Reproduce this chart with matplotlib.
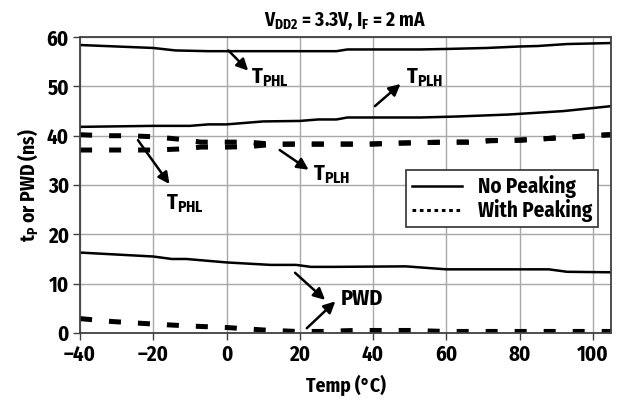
import matplotlib
matplotlib.use("Agg")
import matplotlib.pyplot as plt
from matplotlib.lines import Line2D

FONT = 'Fira Sans Condensed'
plt.rcParams['font.family'] = [FONT, 'DejaVu Sans']
plt.rcParams['font.weight'] = 'bold'
plt.rcParams['font.stretch'] = 'condensed'
plt.rcParams['mathtext.fontset'] = 'custom'
plt.rcParams['mathtext.rm'] = FONT + ':bold'
plt.rcParams['mathtext.bf'] = FONT + ':bold'
plt.rcParams['mathtext.it'] = FONT + ':bold'

# data (temp in C, time in ns)
tphl_np_t = [-40, -20, -14, -5, 0, 20, 30, 33, 53, 60, 71, 80, 85, 93, 105]
tphl_np = [58.4, 57.8, 57.3, 57.15, 57.15, 57.15, 57.15, 57.5, 57.5, 57.6, 57.8, 58.1, 58.2, 58.6, 58.8]

tplh_np_t = [-40, -20, -10, -5, 0, 10, 20, 25, 30, 33, 53, 63, 77, 92, 105]
tplh_np = [41.8, 42.0, 42.0, 42.3, 42.3, 42.9, 43.0, 43.3, 43.3, 43.7, 43.7, 43.9, 44.3, 45.0, 46.0]

pwd_np_t = [-40, -20, -15, -11, 0, 12, 19, 23, 29, 49, 60, 88, 93, 105]
pwd_np = [16.3, 15.5, 15.0, 15.0, 14.3, 13.8, 13.8, 13.4, 13.4, 13.5, 12.9, 12.9, 12.4, 12.3]

peak_t = [-40, -33, -27, -20, -13, -7, 0, 6, 12, 18, 25, 32, 39, 47, 53, 60, 66, 72, 80, 87, 93, 99, 105]
tphl_wp = [40.2, 40.0, 40.0, 39.8, 39.3, 38.7, 38.7, 38.7, 38.3, 38.3, 38.3, 38.3, 38.3, 38.5, 38.6,
           38.7, 38.7, 39.0, 39.1, 39.4, 39.7, 40.0, 40.2]
tplh_wp = [37.1, 37.1, 37.1, 37.1, 37.3, 37.7, 37.7, 37.8, 38.2, 38.3, 38.3, 38.3, 38.3, 38.5, 38.6,
           38.7, 38.7, 39.0, 39.1, 39.4, 39.7, 40.0, 40.2]

pwd_wp_t = [-40, -31, -20, -10, 0, 10, 19, 26, 35, 41, 50, 60, 80, 105]
pwd_wp = [2.9, 2.3, 1.8, 1.4, 1.1, 0.6, 0.3, 0.3, 0.5, 0.5, 0.5, 0.3, 0.3, 0.3]

xticks = [-40, -20, 0, 20, 40, 60, 80, 100]
yticks = [0, 10, 20, 30, 40, 50, 60]

fig = plt.figure(figsize=(6.21, 4.08), dpi=100)
ax = fig.add_axes([0.129, 0.184, 0.855, 0.725])

solid = dict(color='black', lw=1.8, solid_joinstyle='round')
dotted = dict(color='black', lw=3.6, linestyle=(0, (2.4, 3.4)), dash_capstyle='butt')

ax.plot(tphl_np_t, tphl_np, **solid)
ax.plot(tplh_np_t, tplh_np, **solid)
ax.plot(pwd_np_t, pwd_np, **solid)
ax.plot(peak_t, tphl_wp, **dotted)
ax.plot(peak_t, tplh_wp, **dotted)
ax.plot(pwd_wp_t, pwd_wp, **dotted)

ax.set_xlim(-40, 105)
ax.set_ylim(0, 60)
ax.set_xticks(xticks)
ax.set_yticks(yticks)
ax.set_xticklabels(['\u201340', '\u201320'] + [str(v) for v in xticks[2:]])
ax.grid(True, color='#a8a8a8', lw=1.0)
ax.set_axisbelow(True)
for s in ax.spines.values():
    s.set_color('#404040')
    s.set_linewidth(1.3)
ax.tick_params(direction='out', length=5, width=1, color='#404040', labelsize=15, pad=3)

ax.set_title(r'$\mathbf{V_{DD2}}$ = 3.3V, $\mathbf{I_F}$ = 2 mA', fontsize=14, fontweight='bold', pad=8)
ax.set_xlabel('Temp (°C)', fontsize=14, fontweight='bold', labelpad=7)
ax.set_ylabel(r'$\mathbf{t_P}$ or PWD (ns)', fontsize=14, fontweight='bold', labelpad=5)

arrow = dict(arrowstyle='-|>', color='black', lw=1.8, mutation_scale=17, shrinkA=0, shrinkB=0)

def label(txt, x, y):
    ax.text(x, y, txt, fontsize=16, fontweight='bold', va='center', ha='left')

# arrows and labels
ax.annotate('', xy=(5.9, 53.2), xytext=(0.5, 57.3), arrowprops=arrow)
label(r'$\mathbf{T_{PHL}}$', 6.7, 51.7)
ax.annotate('', xy=(47.5, 50.5), xytext=(40.5, 46.0), arrowprops=arrow)
label(r'$\mathbf{T_{PLH}}$', 49.1, 51.7)
ax.annotate('', xy=(-15.6, 30.2), xytext=(-24.2, 39.1), arrowprops=arrow)
label(r'$\mathbf{T_{PHL}}$', -16.5, 26.3)
ax.annotate('', xy=(22.4, 33.1), xytext=(14.5, 37.1), arrowprops=arrow)
label(r'$\mathbf{T_{PLH}}$', 23.7, 32.0)
ax.annotate('', xy=(26.9, 6.7), xytext=(18.7, 12.2), arrowprops=arrow)
ax.annotate('', xy=(29.7, 6.4), xytext=(21.9, 0.95), arrowprops=arrow)
label('PWD', 31.2, 7.0)

handles = [Line2D([], [], color='black', lw=1.8),
           Line2D([], [], color='black', lw=2.2, linestyle=(0, (1.2, 1.2)))]
leg = ax.legend(handles, ['No Peaking', 'With Peaking'], loc='upper right',
                bbox_to_anchor=(0.975, 0.551), fontsize=15, frameon=True, fancybox=False,
                framealpha=1, edgecolor='#303030', handlelength=2.4, borderpad=0.25,
                labelspacing=0.05, handletextpad=0.8, borderaxespad=0)
leg.get_frame().set_linewidth(1.2)

fig.savefig('out.png', dpi=100)
